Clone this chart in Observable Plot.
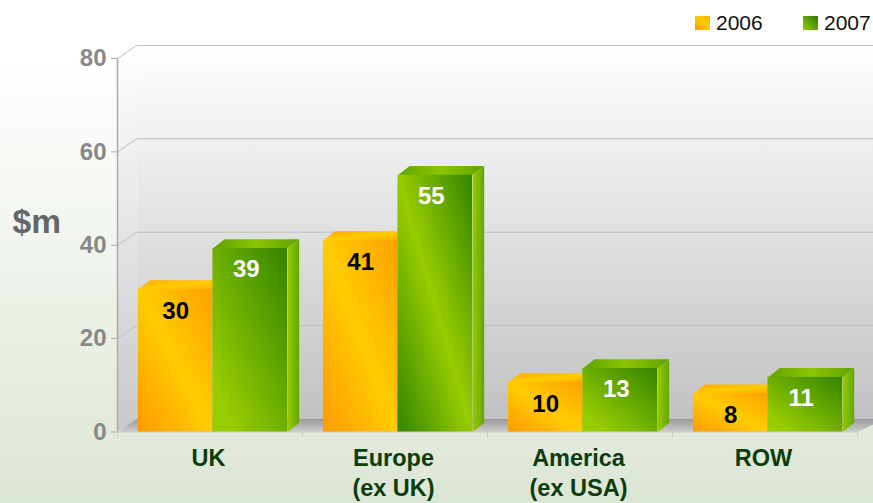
<!DOCTYPE html>
<html><head><meta charset="utf-8">
<script src="https://cdn.jsdelivr.net/npm/d3@7"></script>
<script src="https://cdn.jsdelivr.net/npm/@observablehq/plot@0.6"></script>
<style>
html,body{margin:0;padding:0;width:873px;height:503px;overflow:hidden;background:linear-gradient(180deg,#fff 0,#fff 12%,#dce6d5 100%);font-family:"Liberation Sans",Arial,sans-serif}
#legend{height:45px;position:relative;font-size:21px;color:#111}
#legend span{position:absolute;top:11px;line-height:24px}
#legend i{position:absolute;top:16px;width:15px;height:14px}
svg{display:block;overflow:visible;background:transparent!important}
</style></head><body>
<div id="legend"></div>
<div id="chart"></div>
<script>
const categories = ["UK", "Europe\n(ex UK)", "America\n(ex USA)", "ROW"];
const series = ["2006", "2007"];
const values2006 = [30.5, 41, 10.6, 8.2];
const values2007 = [39.3, 55, 13.6, 11.7];
const labels2006 = ["30", "41", "10", "8"];
const labels2007 = ["39", "55", "13", "11"];
const yTicks = [0, 20, 40, 60, 80];
const boundaries = [0, 1, 2, 3, 4];

const wallX = 0.103, wallY = 2.8, barX = 0.063, barY = 2.0;
const start = 0.113, barW = 0.403, xEnd = 4 + wallX + 0.05;

const bars = [];
categories.forEach((c, i) => {
  bars.push({s: 0, x1: i + start, x2: i + start + barW, v: values2006[i], label: labels2006[i], grad: "url(#o)", col: "#000"});
  bars.push({s: 1, x1: i + start + barW, x2: i + start + 2 * barW, v: values2007[i], label: labels2007[i], grad: i === 1 ? "url(#gTall)" : "url(#g)", col: "#fff"});
});
const poly = (pts, id) => pts.map(([x, y]) => ({x, y, id}));
const topFace = b => poly([[b.x1, b.v], [b.x1 + barX, b.v + barY], [b.x2 + barX, b.v + barY], [b.x2, b.v], [b.x1, b.v]], b.x1);
const sideFace = b => poly([[b.x2, 0], [b.x2, b.v], [b.x2 + barX, b.v + barY], [b.x2 + barX, barY], [b.x2, 0]], b.x1);
const face = (pts, fill) => Plot.line(pts, {x: "x", y: "y", z: "id", fill, stroke: "none", curve: "linear"});

const gridPts = yTicks.flatMap(v => [{x: 0, y: v, id: v}, {x: wallX, y: v + wallY, id: v}, {x: xEnd, y: v + wallY, id: v}]);

const defs = () => {
  const ns = "http://www.w3.org/2000/svg";
  const d = document.createElementNS(ns, "defs");
  const grad = (id, x1, y1, x2, y2, stops) =>
    `<linearGradient id="${id}" x1="${x1}" y1="${y1}" x2="${x2}" y2="${y2}">` +
    stops.map(([o, c]) => `<stop offset="${o}" stop-color="${c}"/>`).join("") + `</linearGradient>`;
  d.innerHTML =
    grad("wall", 0, 0, 0, 1, [[0, "#ffffff"], [1, "#c2c2c2"]]) +
    grad("left", 0, 0, 0, 1, [[0, "#ffffff"], [1, "#c8c8c8"]]) +
    grad("floor", 0, 0, 0, 1, [[0, "#999999"], [1, "#cdcdcd"]]) +
    grad("o", 0, 1, 1, 0, [[0, "#ff9a00"], [0.5, "#ffcc00"], [1, "#ffa000"]]) +
    grad("g", 0, 1, 1, 0, [[0, "#97cc00"], [0.15, "#97cc00"], [1, "#338500"]]) +
    grad("gTall", 0, 1, 1, 0, [[0, "#338500"], [0.5, "#97cc00"], [1, "#338500"]]) +
    grad("oTop", 0, 0, 1, 1, [[0, "#ffa800"], [0.5, "#ffcc00"], [1, "#ffa800"]]) +
    grad("gTop", 0, 0, 1, 0, [[0, "#5fa400"], [0.5, "#8cc400"], [1, "#5fa400"]]) +
    grad("gSide", 0, 0, 1, 0, [[0, "#99cc00"], [1, "#62a600"]]);
  return d;
};

const chart = Plot.plot({
  width: 873, height: 458,
  marginLeft: 117, marginRight: 16, marginTop: 13, marginBottom: 71.5,
  style: {fontFamily: "'Liberation Sans',Arial,sans-serif", overflow: "visible"},
  x: {domain: [0, 4], axis: null},
  y: {domain: [0, 80], axis: null},
  color: {type: "identity"},
  marks: [
    defs,
    face(poly([[wallX, wallY], [wallX, 80 + wallY], [xEnd, 80 + wallY], [xEnd, wallY], [wallX, wallY]], "w"), "url(#wall)"),
    face(poly([[0, 0], [0, 80], [wallX, 80 + wallY], [wallX, wallY], [0, 0]], "l"), "url(#left)"),
    face(poly([[0, 0], [wallX, wallY], [xEnd, wallY], [4, 0], [0, 0]], "f"), "url(#floor)"),
    Plot.line(gridPts, {x: "x", y: "y", z: "id", stroke: "#bdbdbd", strokeWidth: 1, filter: d => d.id !== 0}),
    Plot.ruleX([0], {y1: 0, y2: 80, stroke: "#aaa", strokeWidth: 1.5}),
    Plot.ruleY([0], {x1: 0, x2: 4, stroke: "#ccc", strokeWidth: 1}),
    Plot.axisY({ticks: yTicks, tickSize: 6, tickPadding: 5, fontSize: 24, fontWeight: "bold", color: "#888", stroke: "#aaa"}),
    Plot.axisX({ticks: boundaries, tickSize: 6, tickFormat: () => "", stroke: "#ccc"}),
    Plot.axisX({ticks: [0.5, 1.5, 2.5, 3.5], tickSize: 0, tickPadding: 12, fontSize: 23.5, fontWeight: "bold", color: "#0c3c0c",
      tickFormat: d => categories[d - 0.5], lineHeight: 1.3, dx: -1.5}),
    ...bars.filter(b => b.s === 0).map(b => face(topFace(b), "url(#oTop)")),
    ...bars.filter(b => b.s === 0).map(b => face(sideFace(b), "#ffa800")),
    Plot.rect(bars.filter(b => b.s === 0), {x1: "x1", x2: "x2", y1: 0, y2: "v", fill: "grad", inset: 0}),
    ...bars.filter(b => b.s === 1).map(b => face(topFace(b), "url(#gTop)")),
    ...bars.filter(b => b.s === 1).map(b => face(sideFace(b), "url(#gSide)")),
    Plot.rect(bars.filter(b => b.s === 1), {x1: "x1", x2: "x2", y1: 0, y2: "v", fill: "grad", inset: 0}),
    Plot.text(bars.filter(b => b.s === 0), {x: d => (d.x1 + d.x2) / 2, y: "v", text: "label", fill: "col", dy: 21.5, dx: 0, fontSize: 24, fontWeight: "bold"}),
    Plot.text(bars.filter(b => b.s === 1), {x: d => (d.x1 + d.x2) / 2, y: "v", text: "label", fill: "col", dy: 21, dx: -4, fontSize: 24, fontWeight: "bold"}),
    Plot.text(["$m"], {frameAnchor: "left", y: [45], dx: -105, textAnchor: "start", fontSize: 33.5, fontWeight: "bold", fill: "#666"})
  ]
});
document.getElementById("chart").append(chart);

const legend = document.getElementById("legend");
const swatchFills = ["linear-gradient(45deg,#ff9a00,#ffcc00 55%,#ffaa00)", "linear-gradient(45deg,#97cc00,#267a00)"];
series.forEach((s, i) => {
  const left = 695 + i * 108;
  const sw = document.createElement("i");
  sw.style.left = left + "px"; sw.style.background = swatchFills[i];
  const t = document.createElement("span");
  t.style.left = (left + 21) + "px"; t.textContent = s;
  legend.append(sw, t);
});
</script>
</body></html>
